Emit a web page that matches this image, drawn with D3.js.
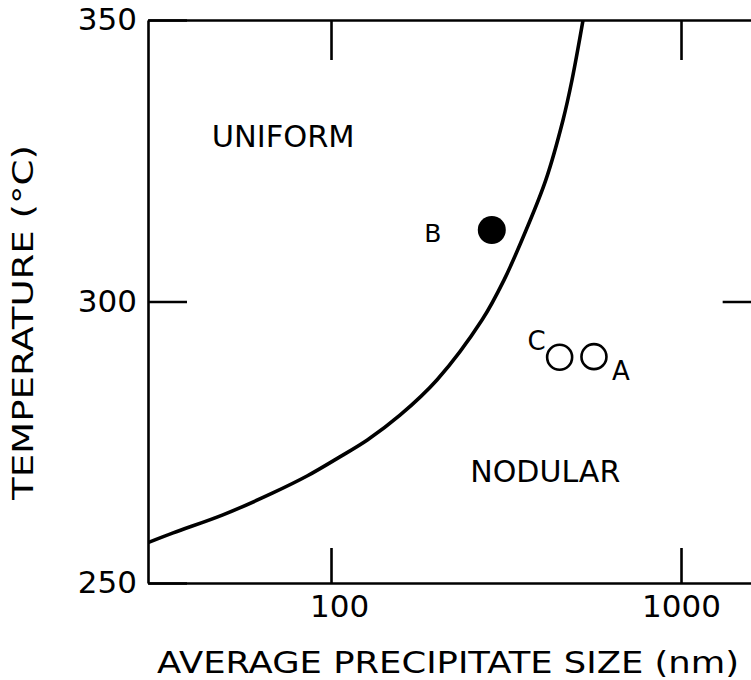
<!DOCTYPE html>
<html>
<head>
<meta charset="utf-8">
<script src="https://cdn.jsdelivr.net/npm/d3@7/dist/d3.min.js"></script>
<style>
  html, body { margin: 0; padding: 0; background: #fff; }
  svg { display: block; }
  text { font-family: "DejaVu Sans", sans-serif; fill: #000; }
</style>
</head>
<body>
<svg id="chart" width="751" height="680"></svg>
<script>
// ---- data ----
const xTicks = [100, 1000];
const xTickLabels = ["100", "1000"];
const yTicks = [250, 300, 350];
const yTickLabels = ["250", "300", "350"];

// boundary curve (precipitate size nm, temperature °C)
const curveSize = [29.8, 35.4, 49.1, 68.2, 85.4, 106, 127, 157.4, 201, 270, 312, 361, 411, 460, 488, 525];
const curveTemp = [257.1, 258.9, 262.1, 266.0, 269.0, 272.4, 275.4, 279.8, 286.1, 296.7, 303.8, 312.7, 321.6, 332.2, 339.3, 350];

// filled point B
const pointBSize = [288];
const pointBTemp = [312.7];
const pointBLabel = ["B"];

// open points C and A
const openSize = [450, 564];
const openTemp = [290.1, 290.2];
const openLabels = ["C", "A"];

const regionLabels = ["UNIFORM", "NODULAR"];
const regionSize = [45.6, 250];
const regionTemp = [327.4, 267.9];

const xTitle = "AVERAGE PRECIPITATE SIZE (nm)";
const yTitle = "TEMPERATURE (°C)";

// ---- scales ----
const svg = d3.select("#chart");
const mLeft = 148, mTop = 20, mBottom = 583;
const decade = 350;
const xMin = 30, xMax = 1700;
const mRight = mLeft + decade * Math.log10(xMax / xMin);

const x = d3.scaleLog().domain([xMin, xMax]).range([mLeft, mRight]);
const y = d3.scaleLinear().domain([250, 350]).range([mBottom, mTop]);

const axisStroke = 2.6;

function styleAxis(g) {
  g.selectAll("path.domain").attr("stroke", "#000").attr("stroke-width", axisStroke);
  g.selectAll(".tick line").attr("stroke", "#000").attr("stroke-width", 2.6);
  g.selectAll(".tick text").style("font-size", "31px").style("font-family", "DejaVu Sans, sans-serif").attr("fill", "#000");
}

// bottom axis
const gB = svg.append("g").attr("transform", `translate(0,${mBottom})`)
  .call(d3.axisBottom(x).tickValues(xTicks).tickSize(-35).tickSizeOuter(0).tickPadding(12)
    .tickFormat((d, i) => xTickLabels[i]));
styleAxis(gB);
gB.selectAll(".tick text").attr("dx", (d, i) => i === 0 ? 8 : 0);

// top axis
const gT = svg.append("g").attr("transform", `translate(0,${mTop})`)
  .call(d3.axisTop(x).tickValues(xTicks).tickSize(-40).tickSizeOuter(0).tickFormat(""));
styleAxis(gT);

// left axis
const gL = svg.append("g").attr("transform", `translate(${mLeft},0)`)
  .call(d3.axisLeft(y).tickValues(yTicks).tickSize(-39).tickSizeOuter(0).tickPadding(11)
    .tickFormat((d, i) => yTickLabels[i]));
styleAxis(gL);

// right axis (off canvas, only inward tick visible)
const gR = svg.append("g").attr("transform", `translate(${mRight},0)`)
  .call(d3.axisRight(y).tickValues([300]).tickSize(-39).tickSizeOuter(0).tickFormat(""));
styleAxis(gR);

// clip
svg.append("clipPath").attr("id", "plotclip").append("rect")
  .attr("x", mLeft).attr("y", mTop).attr("width", mRight - mLeft).attr("height", mBottom - mTop);

// boundary curve
const line = d3.line().x(d => x(d[0])).y(d => y(d[1])).curve(d3.curveCatmullRom.alpha(0.5));
svg.append("path")
  .datum(curveSize.map((s, i) => [s, curveTemp[i]]))
  .attr("d", line)
  .attr("fill", "none").attr("stroke", "#000").attr("stroke-width", 3.6)
  .attr("clip-path", "url(#plotclip)");

// point B
svg.selectAll("circle.b").data(pointBSize).enter().append("circle")
  .attr("class", "b")
  .attr("cx", d => x(d)).attr("cy", (d, i) => y(pointBTemp[i])).attr("r", 14)
  .attr("fill", "#000");
svg.selectAll("text.blabel").data(pointBLabel).enter().append("text")
  .attr("class", "blabel")
  .attr("x", (d, i) => x(pointBSize[i]) - 59).attr("y", (d, i) => y(pointBTemp[i]) + 12)
  .attr("text-anchor", "middle").style("font-size", "25px").text(d => d);

// open points
svg.selectAll("circle.o").data(openSize).enter().append("circle")
  .attr("class", "o")
  .attr("cx", d => x(d)).attr("cy", (d, i) => y(openTemp[i])).attr("r", 12.5)
  .attr("fill", "none").attr("stroke", "#000").attr("stroke-width", 2.6);
svg.append("text")
  .attr("x", x(openSize[0]) - 23).attr("y", y(openTemp[0]) - 7)
  .attr("text-anchor", "middle").style("font-size", "26px").text(openLabels[0]);
svg.append("text")
  .attr("x", x(openSize[1]) + 27).attr("y", y(openTemp[1]) + 23)
  .attr("text-anchor", "middle").style("font-size", "26px").text(openLabels[1]);

// region labels
svg.selectAll("text.region").data(regionLabels).enter().append("text")
  .attr("class", "region")
  .attr("x", (d, i) => x(regionSize[i])).attr("y", (d, i) => y(regionTemp[i]))
  .attr("textLength", (d, i) => i === 0 ? 143 : 150).attr("lengthAdjust", "spacingAndGlyphs")
  .style("font-size", "31px").text(d => d);

// axis titles
svg.append("text")
  .attr("x", 157).attr("y", 673)
  .attr("textLength", 582).attr("lengthAdjust", "spacingAndGlyphs")
  .style("font-size", "30px").text(xTitle);

svg.append("text")
  .attr("transform", "translate(33,500) rotate(-90)")
  .attr("textLength", 355).attr("lengthAdjust", "spacingAndGlyphs")
  .style("font-size", "28px").text(yTitle);
</script>
</body>
</html>
